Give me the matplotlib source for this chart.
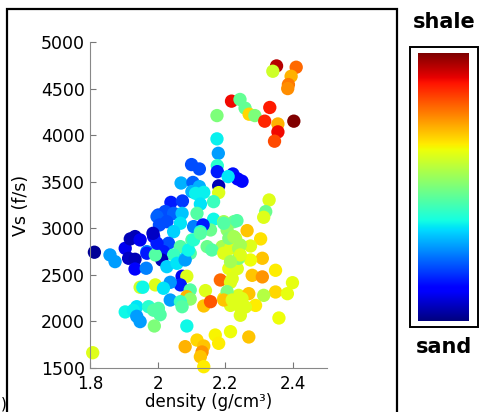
import numpy as np
import matplotlib
matplotlib.use("Agg")
import matplotlib.pyplot as plt
from matplotlib.patches import Rectangle

plt.rcParams['font.family'] = ['DejaVu Sans']

# density (g/cm3), shear velocity (f/s), shale fraction (0 = sand, 1 = shale)
density = [
    2.351, 2.409, 2.340, 2.394, 2.386, 2.384, 2.218, 2.243, 2.258, 2.270,
    2.287, 2.331, 2.316, 2.355, 2.402, 2.355, 2.345, 2.175, 2.175, 2.179,
    2.100, 2.123, 2.176, 2.176, 2.222, 2.236, 2.249, 2.208, 2.180, 2.180,
    2.069, 2.104, 2.101, 2.123, 2.112, 2.136, 2.165, 2.126, 2.039, 2.073,
    2.329, 2.319, 2.313, 2.116, 2.022, 2.047, 2.072, 2.002, 1.998, 2.165,
    2.195, 2.225, 2.234, 2.156, 2.205, 2.230, 2.106, 2.134, 2.067, 2.027,
    2.005, 2.047, 2.126, 2.101, 2.146, 2.190, 2.215, 2.032, 2.067, 2.017,
    2.047, 2.081, 2.096, 2.012, 1.813, 1.859, 1.874, 1.904, 1.919, 1.933,
    1.948, 1.988, 1.914, 1.933, 1.933, 1.966, 1.968, 1.968, 1.993, 1.998,
    1.986, 2.027, 2.057, 2.081, 2.091, 2.106, 2.126, 2.072, 2.086, 2.067,
    2.037, 1.993, 1.948, 1.956, 2.017, 2.141, 2.096, 2.086, 2.096, 2.037,
    2.067, 2.072, 2.136, 2.156, 2.185, 2.215, 1.904, 1.938, 1.928, 1.973,
    1.988, 2.002, 2.007, 1.938, 1.948, 1.990, 2.086, 1.808, 2.081, 2.116,
    2.136, 2.131, 2.126, 2.136, 2.170, 2.180, 2.215, 2.210, 2.220, 2.235,
    2.195, 2.215, 2.239, 2.279, 2.309, 2.348, 2.398, 2.348, 2.383, 2.313,
    2.269, 2.249, 2.289, 2.259, 2.244, 2.358, 2.269, 2.264, 2.304, 2.274,
    2.309, 2.274, 2.239, 2.239, 2.195, 2.210, 2.225, 2.244, 2.160, 2.195,
    2.244, 2.215, 2.205, 2.195, 2.220, 2.244,
]
vs = [
    4743, 4729, 4686, 4632, 4543, 4500, 4365, 4383, 4290, 4225,
    4210, 4297, 4150, 4120, 4150, 4035, 3935, 4210, 3960, 3805,
    3684, 3637, 3672, 3608, 3583, 3530, 3505, 3555, 3455, 3383,
    3486, 3492, 3394, 3447, 3375, 3386, 3286, 3260, 3278, 3293,
    3304, 3179, 3118, 3160, 3180, 3160, 3160, 3143, 3126, 3097,
    3071, 3071, 3082, 2982, 2982, 2892, 3018, 3036, 3054, 3071,
    3036, 2964, 2964, 2875, 2803, 2803, 2785, 2839, 2803, 2749,
    2714, 2678, 2732, 2660, 2743, 2714, 2642, 2785, 2886, 2911,
    2875, 2911, 2678, 2667, 2563, 2571, 2749, 2732, 2714, 2839,
    2946, 2588, 2624, 2660, 2767, 2875, 2946, 2485, 2485, 2392,
    2420, 2392, 2367, 2367, 2356, 2331, 2338, 2266, 2240, 2230,
    2212, 2158, 2166, 2212, 2445, 2420, 2102, 2158, 2120, 2158,
    2120, 2140, 2072, 2055, 1998, 1951, 1951, 1664, 1729, 1800,
    1736, 1672, 1621, 1514, 1854, 1765, 1890, 2567, 2459, 2567,
    2248, 2172, 2280, 2495, 2478, 2549, 2416, 2316, 2298, 2280,
    2298, 2245, 2172, 2155, 2066, 2037, 1833, 2975, 2886, 2810,
    2678, 2660, 2678, 2785, 3054, 2893, 2910, 2821, 2767, 2732,
    2714, 2642, 2320, 2230, 2230, 2158,
]
shale = [
    0.95, 0.80, 0.60, 0.72, 0.78, 0.76, 0.90, 0.47, 0.47, 0.68,
    0.50, 0.88, 0.87, 0.72, 1.00, 0.90, 0.83, 0.50, 0.36, 0.28,
    0.20, 0.20, 0.40, 0.15, 0.14, 0.13, 0.13, 0.35, 0.05, 0.62,
    0.30, 0.22, 0.30, 0.30, 0.36, 0.36, 0.42, 0.35, 0.15, 0.18,
    0.62, 0.48, 0.62, 0.45, 0.20, 0.22, 0.32, 0.20, 0.22, 0.37,
    0.55, 0.48, 0.45, 0.48, 0.52, 0.60, 0.25, 0.15, 0.35, 0.20,
    0.20, 0.33, 0.38, 0.45, 0.48, 0.55, 0.62, 0.20, 0.45, 0.15,
    0.42, 0.35, 0.45, 0.05, 0.02, 0.28, 0.28, 0.10, 0.05, 0.05,
    0.10, 0.12, 0.06, 0.05, 0.12, 0.25, 0.25, 0.15, 0.45, 0.15,
    0.06, 0.33, 0.35, 0.28, 0.37, 0.40, 0.45, 0.10, 0.62, 0.15,
    0.27, 0.62, 0.60, 0.37, 0.35, 0.62, 0.45, 0.72, 0.52, 0.28,
    0.42, 0.45, 0.70, 0.82, 0.80, 0.62, 0.37, 0.35, 0.36, 0.40,
    0.45, 0.45, 0.45, 0.28, 0.28, 0.50, 0.37, 0.62, 0.72, 0.68,
    0.70, 0.75, 0.70, 0.66, 0.65, 0.66, 0.64, 0.63, 0.62, 0.62,
    0.66, 0.62, 0.62, 0.70, 0.75, 0.66, 0.63, 0.68, 0.63, 0.57,
    0.70, 0.62, 0.66, 0.62, 0.62, 0.64, 0.70, 0.70, 0.67, 0.62,
    0.70, 0.64, 0.50, 0.55, 0.45, 0.50, 0.55, 0.55, 0.45, 0.62,
    0.62, 0.55, 0.50, 0.70, 0.62, 0.62,
]

x_ticks = [1.8, 2.0, 2.2, 2.4]
x_tick_labels = ["1.8", "2", "2.2", "2.4"]
y_ticks = [1500, 2000, 2500, 3000, 3500, 4000, 4500, 5000]

W, H = 479, 412
fig = plt.figure(figsize=(W / 100, H / 100), dpi=100)

cmap = plt.get_cmap("jet")

ax = fig.add_axes([90 / W, 1 - 368 / H, 237 / W, 326 / H])
ax.scatter(density, vs, c=shale, cmap=cmap, vmin=0, vmax=1,
           s=92, edgecolors="none", clip_on=False)
ax.set_xlim(1.8, 2.5)
ax.set_ylim(1500, 5000)
ax.set_xticks(x_ticks)
ax.set_xticklabels(x_tick_labels)
ax.set_yticks(y_ticks)
ax.tick_params(direction="in", length=4, width=0.8, color="#777777",
               labelsize=12.5)
ax.tick_params(axis="y", pad=3.5)
ax.tick_params(axis="x", pad=5, labelsize=12)
for side in ["top", "right"]:
    ax.spines[side].set_visible(False)
for side in ["left", "bottom"]:
    ax.spines[side].set_color("#888888")
    ax.spines[side].set_linewidth(0.8)
ax.set_xlabel("density (g/cm³)", fontsize=12, labelpad=0)
ax.set_ylabel("Vs (f/s)", fontsize=12.5, labelpad=8)

# outer frame around the scatter panel
fig.add_artist(Rectangle((7 / W, -0.02), 390 / W, 1 - 9 / H + 0.02,
                         transform=fig.transFigure, fill=False,
                         edgecolor="black", linewidth=1.6))
fig.text(4 / W, 1 - 404 / H, ")", fontsize=11, ha="center", va="center")

# colour scale box
fig.add_artist(Rectangle((410 / W, 1 - 327 / H), 68 / W, 280 / H,
                         transform=fig.transFigure, fill=False,
                         edgecolor="black", linewidth=1.4))
cax = fig.add_axes([418 / W, 1 - 321 / H, 51 / W, 268 / H])
gradient = np.linspace(0, 1, 256).reshape(-1, 1)
cax.imshow(gradient, cmap=cmap, aspect="auto", origin="lower",
           extent=[0, 1, 0, 1])
cax.set_xticks([])
cax.set_yticks([])
for spine in cax.spines.values():
    spine.set_visible(False)

fig.text(444 / W, 1 - 22 / H, "shale", fontsize=15, fontweight="bold",
         ha="center", va="center")
fig.text(444 / W, 1 - 347 / H, "sand", fontsize=15, fontweight="bold",
         ha="center", va="center")

fig.savefig("out.png", dpi=100)
